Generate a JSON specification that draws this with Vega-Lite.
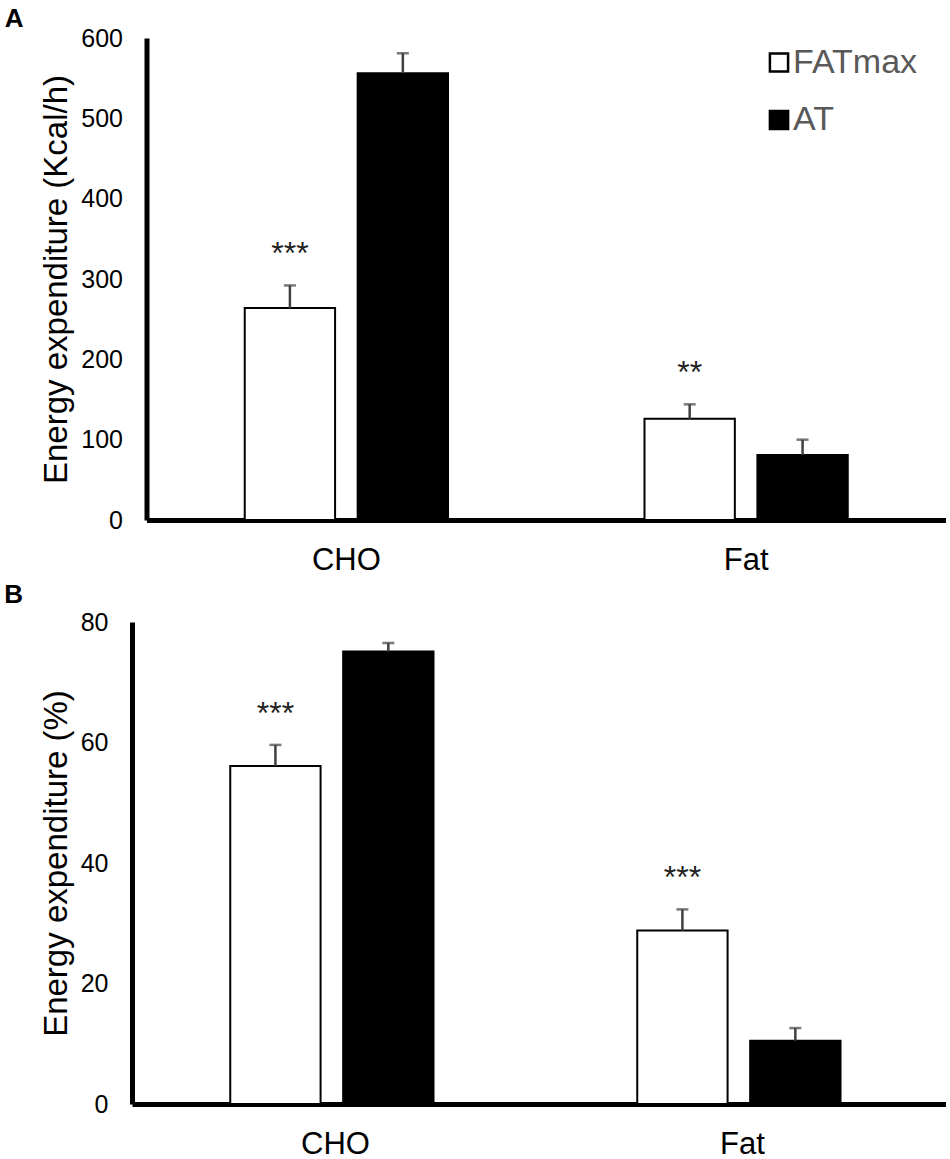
{
  "$schema": "https://vega.github.io/schema/vega-lite/v6.json",
  "padding": {"left": 4, "top": 6, "right": 0, "bottom": 0},
  "background": "white",
  "config": {
    "font": "Liberation Sans",
    "view": {"stroke": null},
    "axis": {"grid": false, "ticks": false, "domainColor": "black", "domainWidth": 5, "labelColor": "black", "titleColor": "black", "titleFontWeight": "normal"},
    "axisX": {"labelFontSize": 31, "labelPadding": 25, "labelAngle": 0},
    "axisY": {"labelFontSize": 25, "labelPadding": 24, "titleFontSize": 33, "titlePadding": 7},
    "title": {"anchor": "start", "frame": "bounds", "fontSize": 26, "fontWeight": "bold", "color": "black", "dx": -36, "baseline": "alphabetic"}
  },
  "data": {
    "values": [
      {"panel": "A", "nutrient": "CHO", "condition": "FATmax", "mean": 264, "upper": 292, "sig": "***"},
      {"panel": "A", "nutrient": "CHO", "condition": "AT", "mean": 556, "upper": 581, "sig": ""},
      {"panel": "A", "nutrient": "Fat", "condition": "FATmax", "mean": 126, "upper": 144, "sig": "**"},
      {"panel": "A", "nutrient": "Fat", "condition": "AT", "mean": 81, "upper": 100, "sig": ""},
      {"panel": "B", "nutrient": "CHO", "condition": "FATmax", "mean": 56.1, "upper": 59.6, "sig": "***"},
      {"panel": "B", "nutrient": "CHO", "condition": "AT", "mean": 75.1, "upper": 76.5, "sig": ""},
      {"panel": "B", "nutrient": "Fat", "condition": "FATmax", "mean": 28.8, "upper": 32.3, "sig": "***"},
      {"panel": "B", "nutrient": "Fat", "condition": "AT", "mean": 10.5, "upper": 12.6, "sig": ""}
    ]
  },
  "spacing": 6,
  "resolve": {"scale": {"fill": "independent"}, "legend": {"fill": "independent"}},
  "vconcat": [
    {
      "title": {"text": "A", "offset": -6},
      "width": 814,
      "height": 482,
      "transform": [{"filter": "datum.panel == 'A'"}],
      "encoding": {
        "x": {"field": "nutrient", "type": "nominal", "sort": ["CHO", "Fat"], "title": null, "scale": {"paddingInner": 0, "paddingOuter": 0, "range": [14.5, 814]}},
        "xOffset": {"field": "condition", "type": "nominal", "sort": ["FATmax", "AT"], "scale": {"paddingInner": 0.2, "paddingOuter": 0.87}}
      },
      "layer": [
        {
          "mark": {"type": "bar", "stroke": "black", "strokeWidth": 2},
          "encoding": {
            "y": {"field": "mean", "type": "quantitative", "title": "Energy expenditure (Kcal/h)", "scale": {"domain": [0, 600], "nice": false}, "axis": {"values": [0, 100, 200, 300, 400, 500, 600], "offset": -14.5}},
            "fill": {
              "field": "condition", "type": "nominal", "sort": ["FATmax", "AT"],
              "scale": {"domain": ["FATmax", "AT"], "range": ["white", "black"]},
              "legend": {"title": null, "orient": "none", "legendX": 630, "legendY": 7.5, "symbolType": "square", "symbolSize": 330, "symbolStrokeColor": "black", "symbolStrokeWidth": 2.5, "labelFontSize": 34, "labelColor": "#595959", "labelOffset": -3, "rowPadding": 23.5}
            }
          }
        },
        {
          "mark": {"type": "rule", "color": "#404040", "strokeWidth": 2.5},
          "encoding": {
            "y": {"field": "mean", "type": "quantitative", "title": "Energy expenditure (Kcal/h)", "axis": {"values": [0, 100, 200, 300, 400, 500, 600], "offset": -14.5}},
            "y2": {"field": "upper"}
          }
        },
        {
          "mark": {"type": "tick", "orient": "horizontal", "size": 12, "thickness": 2.5, "color": "#404040"},
          "encoding": {"y": {"field": "upper", "type": "quantitative", "title": "Energy expenditure (Kcal/h)", "axis": {"values": [0, 100, 200, 300, 400, 500, 600], "offset": -14.5}}}
        },
        {
          "transform": [{"filter": "datum.sig != ''"}],
          "mark": {"type": "text", "dy": -21, "baseline": "alphabetic", "fontSize": 32, "color": "#222222"},
          "encoding": {
            "y": {"field": "upper", "type": "quantitative", "title": "Energy expenditure (Kcal/h)", "axis": {"values": [0, 100, 200, 300, 400, 500, 600], "offset": -14.5}},
            "text": {"field": "sig"}
          }
        }
      ]
    },
    {
      "title": {"text": "B", "offset": 2.5},
      "width": 814,
      "height": 482,
      "transform": [{"filter": "datum.panel == 'B'"}],
      "encoding": {
        "x": {"field": "nutrient", "type": "nominal", "sort": ["CHO", "Fat"], "title": null, "scale": {"paddingInner": 0, "paddingOuter": 0}},
        "xOffset": {"field": "condition", "type": "nominal", "sort": ["FATmax", "AT"], "scale": {"paddingInner": 0.2, "paddingOuter": 0.85}}
      },
      "layer": [
        {
          "mark": {"type": "bar", "stroke": "black", "strokeWidth": 2},
          "encoding": {
            "y": {"field": "mean", "type": "quantitative", "title": "Energy expenditure (%)", "scale": {"domain": [0, 80], "nice": false}, "axis": {"values": [0, 20, 40, 60, 80]}},
            "fill": {
              "field": "condition", "type": "nominal", "sort": ["FATmax", "AT"],
              "scale": {"domain": ["FATmax", "AT"], "range": ["white", "black"]},
              "legend": null
            }
          }
        },
        {
          "mark": {"type": "rule", "color": "#404040", "strokeWidth": 2.5},
          "encoding": {
            "y": {"field": "mean", "type": "quantitative", "title": "Energy expenditure (%)"},
            "y2": {"field": "upper"}
          }
        },
        {
          "mark": {"type": "tick", "orient": "horizontal", "size": 12, "thickness": 2.5, "color": "#404040"},
          "encoding": {"y": {"field": "upper", "type": "quantitative", "title": "Energy expenditure (%)"}}
        },
        {
          "transform": [{"filter": "datum.sig != ''"}],
          "mark": {"type": "text", "dy": -21, "baseline": "alphabetic", "fontSize": 32, "color": "#222222"},
          "encoding": {
            "y": {"field": "upper", "type": "quantitative", "title": "Energy expenditure (%)"},
            "text": {"field": "sig"}
          }
        }
      ]
    }
  ]
}
